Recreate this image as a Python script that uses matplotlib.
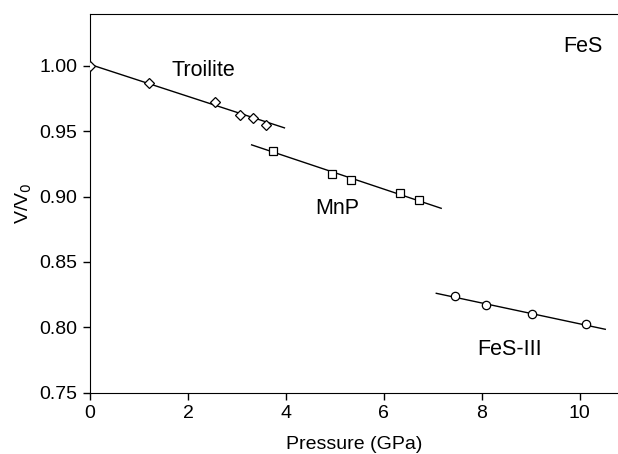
import matplotlib

matplotlib.use("Agg")
import matplotlib.pyplot as plt

plt.rcParams["font.family"] = ["Liberation Sans", "DejaVu Sans"]

# measured points (pressure in GPa, V/V0)
troilite_p = [0.0, 1.2, 2.55, 3.07, 3.33, 3.59]
troilite_v = [1.000, 0.987, 0.972, 0.962, 0.960, 0.955]
troilite_fit_p = [0.0, 3.97]
troilite_fit_v = [1.001, 0.9525]

mnp_p = [3.74, 4.95, 5.32, 6.32, 6.71]
mnp_v = [0.935, 0.9175, 0.913, 0.903, 0.897]
mnp_fit_p = [3.3, 7.17]
mnp_fit_v = [0.9395, 0.891]

fes3_p = [7.46, 8.09, 9.03, 10.12]
fes3_v = [0.824, 0.817, 0.810, 0.8025]
fes3_fit_p = [7.07, 10.52]
fes3_fit_v = [0.826, 0.7985]

y_ticks = [0.75, 0.80, 0.85, 0.90, 0.95, 1.00]
x_ticks = [0, 2, 4, 6, 8, 10]

fig = plt.figure(figsize=(6.18, 4.54), dpi=100)
ax = fig.add_axes([0.1456, 0.135, 0.8544, 0.834])

marker_style = dict(linestyle="none", markerfacecolor="white", markeredgecolor="black",
                    markeredgewidth=0.9, zorder=3)
ax.plot(troilite_fit_p, troilite_fit_v, color="black", lw=1.0)
ax.plot(troilite_p, troilite_v, marker="D", markersize=5, **marker_style)
ax.plot(mnp_fit_p, mnp_fit_v, color="black", lw=1.0)
ax.plot(mnp_p, mnp_v, marker="s", markersize=6, **marker_style)
ax.plot(fes3_fit_p, fes3_fit_v, color="black", lw=1.0)
ax.plot(fes3_p, fes3_v, marker="o", markersize=6, **marker_style)

ax.text(2.31, 0.9967, "Troilite", fontsize=15.5, ha="center", va="center")
ax.text(5.04, 0.891, "MnP", fontsize=15.5, ha="center", va="center")
ax.text(8.56, 0.783, "FeS-III", fontsize=15.5, ha="center", va="center")
ax.text(10.06, 1.0145, "FeS", fontsize=15.5, ha="center", va="center")

ax.set_xlim(0, 10.78)
ax.set_ylim(0.75, 1.0395)
ax.set_xticks(x_ticks)
ax.set_yticks(y_ticks)
ax.set_yticklabels([f"{t:.2f}" for t in y_ticks])
ax.spines["right"].set_visible(False)
ax.tick_params(direction="out", length=5, width=1, labelsize=14, pad=4, top=False, right=False)
ax.set_xlabel("Pressure (GPa)", fontsize=14, labelpad=10)
ax.set_ylabel("V/V$_0$", fontsize=14, labelpad=4)

fig.savefig("out.png", dpi=100, facecolor="white")
